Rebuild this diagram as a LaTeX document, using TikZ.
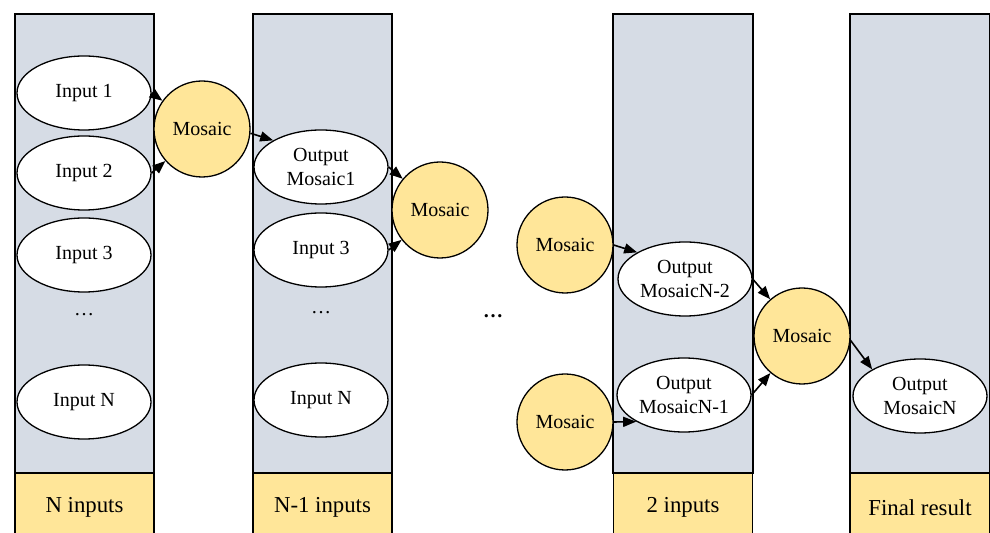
\documentclass[tikz,border=0pt]{standalone}
\usepackage{fontspec}
\setmainfont{Liberation Serif}
\usepackage{tikz}
\usetikzlibrary{arrows.meta, shapes.geometric}
\definecolor{spalte}{HTML}{D6DCE5}
\definecolor{gelb}{HTML}{FFE699}

\begin{document}
\begin{tikzpicture}[x=0.5pt, y=-0.5pt,
    spaltebox/.style={draw, line width=0.65pt, fill=spalte},
    labelbox/.style={draw, line width=0.65pt, fill=gelb, rectangle,
      minimum width=69.5pt, minimum height=34.5pt, inner sep=0pt,
      font=\fontsize{11.4}{14}\selectfont},
    datei/.style={draw, line width=0.65pt, fill=white, ellipse,
      minimum width=67pt, minimum height=37pt, inner sep=0pt, align=center},
    mosaik/.style={draw, line width=0.65pt, fill=gelb, circle,
      minimum size=48pt, inner sep=0pt},
    pfeil/.style={-{Triangle[length=6.5pt, width=5pt]}, line width=0.8pt}]
      \useasboundingbox (0,0) rectangle (990,533);

      % Spalten
      \fill[white] (0,0) rectangle (990,533);
      \draw[spaltebox] (15,14) rectangle (154,473);
      \draw[spaltebox] (253,14) rectangle (392,473);
      \draw[spaltebox] (613,14) rectangle (753,473);
      \draw[spaltebox] (850,14) rectangle (990,473);

      \node[labelbox] (lab1) at (84.5,507.5) {N inputs};
      \node[labelbox] (lab2) at (322.5,507.5) {N-1 inputs};
      \node[labelbox] (lab3) at (683,507.5) {2 inputs};
      \node[labelbox, minimum width=70pt] (lab4) at (920,507.5) {Final result};

      % Erste Spalte
      \node[datei] (in1) at (84,93) {Input 1};
      \node[datei] (in2) at (84,173) {Input 2};
      \node[datei] (in3) at (84,255) {Input 3};
      \node (dots1) at (84,315) {…};
      \node[datei] (inN) at (84,402) {Input N};
      \node[mosaik] (mos1) at (202,129) {Mosaic};

      % Zweite Spalte
      \node[datei] (out1) at (321,167) {Output\\Mosaic1};
      \node[datei] (inb3) at (321,250) {Input 3};
      \node (dots2) at (321,313) {…};
      \node[datei] (inbN) at (321,400) {Input N};
      \node[mosaik] (mos2) at (440,210) {Mosaic};

      \node[font=\bfseries] (dots3) at (493,316) {…};

      % Dritte Spalte
      \node[mosaik] (mosA) at (565,245) {Mosaic};
      \node[mosaik] (mosB) at (565,422) {Mosaic};
      \node[datei] (outA) at (685,279) {Output\\MosaicN-2};
      \node[datei] (outB) at (684,395) {Output\\MosaicN-1};
      \node[mosaik] (mosC) at (802,336) {Mosaic};

      % Ergebnis
      \node[datei] (outN) at (920,396) {Output\\MosaicN};

      % Pfeile
      \draw[pfeil] (in1.east) -- (mos1);
      \draw[pfeil] (in2.east) -- (mos1);
      \draw[pfeil] (mos1.-5) -- (out1.north west);
      \draw[pfeil] (out1.east) -- (mos2);
      \draw[pfeil] (inb3.east) -- (mos2);
      \draw[pfeil] (mosA.east) -- (outA.north west);
      \draw[pfeil] (mosB.east) -- (outB.south west);
      \draw[pfeil] (outA.east) -- (mosC);
      \draw[pfeil] (outB.east) -- (mosC);
      \draw[pfeil] (mosC.-5) -- (outN.north west);
    \end{tikzpicture}
\end{document}
